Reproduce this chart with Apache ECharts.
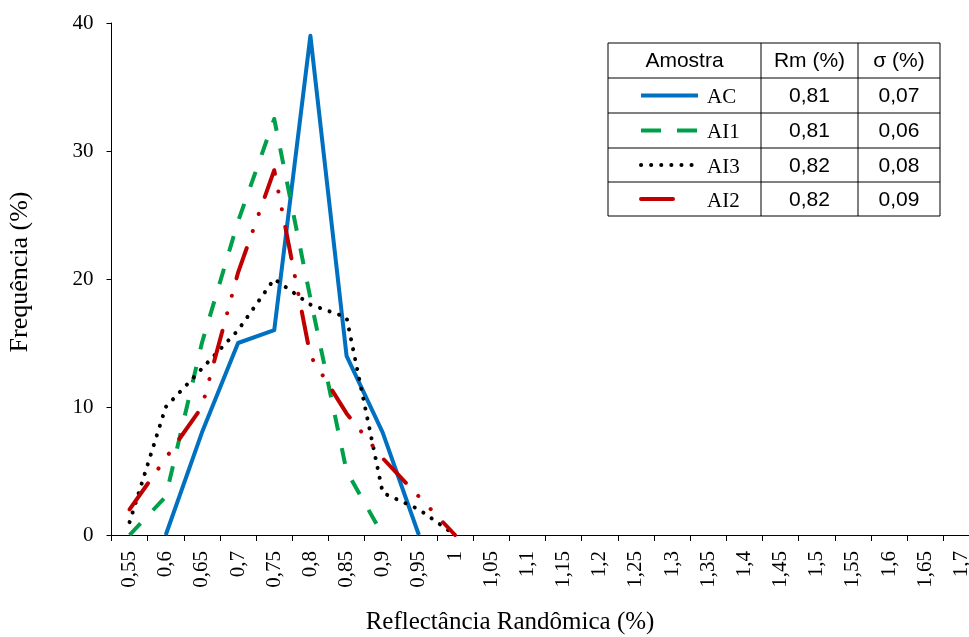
<!DOCTYPE html>
<html>
<head>
<meta charset="utf-8">
<script src="https://cdn.jsdelivr.net/npm/echarts@6/dist/echarts.min.js"></script>
<style>html,body{margin:0;padding:0;background:#fff;overflow:hidden}#c{width:980px;height:637px}</style>
</head>
<body>
<div id="c"></div>
<script>
// ---- data ----
const categories = ['0,55','0,6','0,65','0,7','0,75','0,8','0,85','0,9','0,95','1','1,05','1,1','1,15','1,2','1,25','1,3','1,35','1,4','1,45','1,5','1,55','1,6','1,65','1,7'];
const acValues  = [null, 0, 8, 15, 16, 39, 14, 8, 0];
const ai1Values = [0, 3, 15, 24.5, 32.5, 18.5, 5, 0];
const ai3Values = [1, 10, 13, 16, 20, 18, 17, 3.3, 2, 0];
const ai2Values = [2, 6, 10, 20.5, 28.5, 14, 9.5, 6, 3, 0];
const yTicks = [0, 10, 20, 30, 40];
const seriesNames = ['AC', 'AI1', 'AI3', 'AI2'];
const tableHeaders = ['Amostra', 'Rm (%)', 'σ (%)'];
const rmValues = ['0,81', '0,81', '0,82', '0,82'];
const sigmaValues = ['0,07', '0,06', '0,08', '0,09'];
const xTitle = 'Reflectância Randômica (%)';
const yTitle = 'Frequência (%)';

// ---- styles ----
const SERIF = '"Liberation Serif", "Times New Roman", serif';
const SANS = '"Liberation Sans", Arial, sans-serif';
const styles = {
  AC:  { color: '#0070C0', width: 4, type: 'solid', cap: 'butt' },
  AI1: { color: '#00A04A', width: 4, type: [16, 18], cap: 'butt' },
  AI3: { color: '#000000', width: 4, type: [0.1, 10], cap: 'round' },
  AI2: { color: '#C00000', width: 4, type: [32, 18, 0.1, 18, 0.1, 18], cap: 'round' }
};
const valuesByName = { AC: acValues, AI1: ai1Values, AI3: ai3Values, AI2: ai2Values };

const series = seriesNames.map(n => ({
  name: n,
  type: 'line',
  data: valuesByName[n],
  symbol: 'none',
  showSymbol: false,
  connectNulls: false,
  animation: false,
  lineStyle: { color: styles[n].color, width: styles[n].width, type: styles[n].type, cap: styles[n].cap, join: 'round' },
  itemStyle: { color: styles[n].color },
  z: 2
}));

// ---- legend table (graphic) ----
const colX = [608, 761, 858, 940];
const rowY = [43, 78, 113, 148, 182, 216];
const g = [];
g.push({ type: 'rect', shape: { x: colX[0], y: rowY[0], width: colX[3] - colX[0], height: rowY[5] - rowY[0] }, style: { fill: '#fff', stroke: '#000', lineWidth: 1 }, z: 10 });
for (let i = 1; i < rowY.length - 1; i++) {
  g.push({ type: 'line', shape: { x1: colX[0], y1: rowY[i], x2: colX[3], y2: rowY[i] }, style: { stroke: '#000', lineWidth: 1 }, z: 11 });
}
for (let j = 1; j < colX.length - 1; j++) {
  g.push({ type: 'line', shape: { x1: colX[j], y1: rowY[0], x2: colX[j], y2: rowY[5] }, style: { stroke: '#000', lineWidth: 1 }, z: 11 });
}
tableHeaders.forEach((h, j) => {
  g.push({ type: 'text', x: (colX[j] + colX[j + 1]) / 2, y: (rowY[0] + rowY[1]) / 2 + 1,
    style: { text: h, font: '21px ' + SANS, fill: '#000', align: 'center', verticalAlign: 'middle' }, z: 12 });
});
seriesNames.forEach((n, i) => {
  const cy = (rowY[i + 1] + rowY[i + 2]) / 2;
  const s = styles[n];
  const x2 = n === 'AI2' ? 680 : 698;
  g.push({ type: 'line', shape: { x1: 641, y1: cy, x2: x2, y2: cy },
    style: { stroke: s.color, lineWidth: s.width, lineDash: Array.isArray(s.type) ? (n === 'AI1' ? [20, 16] : s.type) : null, lineCap: n === 'AI2' ? 'round' : s.cap }, z: 12 });
  g.push({ type: 'text', x: 707, y: cy + 2,
    style: { text: n, font: '21px ' + SERIF, fill: '#000', align: 'left', verticalAlign: 'middle' }, z: 12 });
  g.push({ type: 'text', x: (colX[1] + colX[2]) / 2, y: cy + 1,
    style: { text: rmValues[i], font: '21px ' + SANS, fill: '#000', align: 'center', verticalAlign: 'middle' }, z: 12 });
  g.push({ type: 'text', x: (colX[2] + colX[3]) / 2, y: cy + 1,
    style: { text: sigmaValues[i], font: '21px ' + SANS, fill: '#000', align: 'center', verticalAlign: 'middle' }, z: 12 });
});
// axis titles
g.push({ type: 'text', x: 510, y: 622, style: { text: xTitle, font: '25px ' + SERIF, fill: '#000', align: 'center', verticalAlign: 'middle' }, z: 12 });
g.push({ type: 'text', x: 20, y: 272, rotation: Math.PI / 2, style: { text: yTitle, font: '26px ' + SERIF, fill: '#000', align: 'center', verticalAlign: 'middle' }, z: 12 });

const chart = echarts.init(document.getElementById('c'), null, { renderer: 'canvas' });
chart.setOption({
  animation: false,
  backgroundColor: '#fff',
  grid: { left: 111.5, top: 23, right: 0.6, bottom: 102, containLabel: false },
  xAxis: {
    type: 'category',
    data: categories,
    boundaryGap: true,
    axisLine: { lineStyle: { color: '#000', width: 1 } },
    axisTick: { show: true, inside: false, length: 6, alignWithLabel: false, lineStyle: { color: '#000' } },
    axisLabel: { rotate: 90, margin: 16, interval: 0, color: '#000', fontFamily: SERIF, fontSize: 21 },
    splitLine: { show: false }
  },
  yAxis: {
    type: 'value',
    min: yTicks[0],
    max: yTicks[yTicks.length - 1],
    interval: yTicks[1] - yTicks[0],
    axisLine: { show: true, lineStyle: { color: '#000', width: 1 } },
    axisTick: { show: true, inside: false, length: 5, lineStyle: { color: '#000' } },
    axisLabel: { margin: 18, color: '#000', fontFamily: SERIF, fontSize: 21 },
    splitLine: { show: false }
  },
  series: series,
  graphic: g
});
</script>
</body>
</html>
